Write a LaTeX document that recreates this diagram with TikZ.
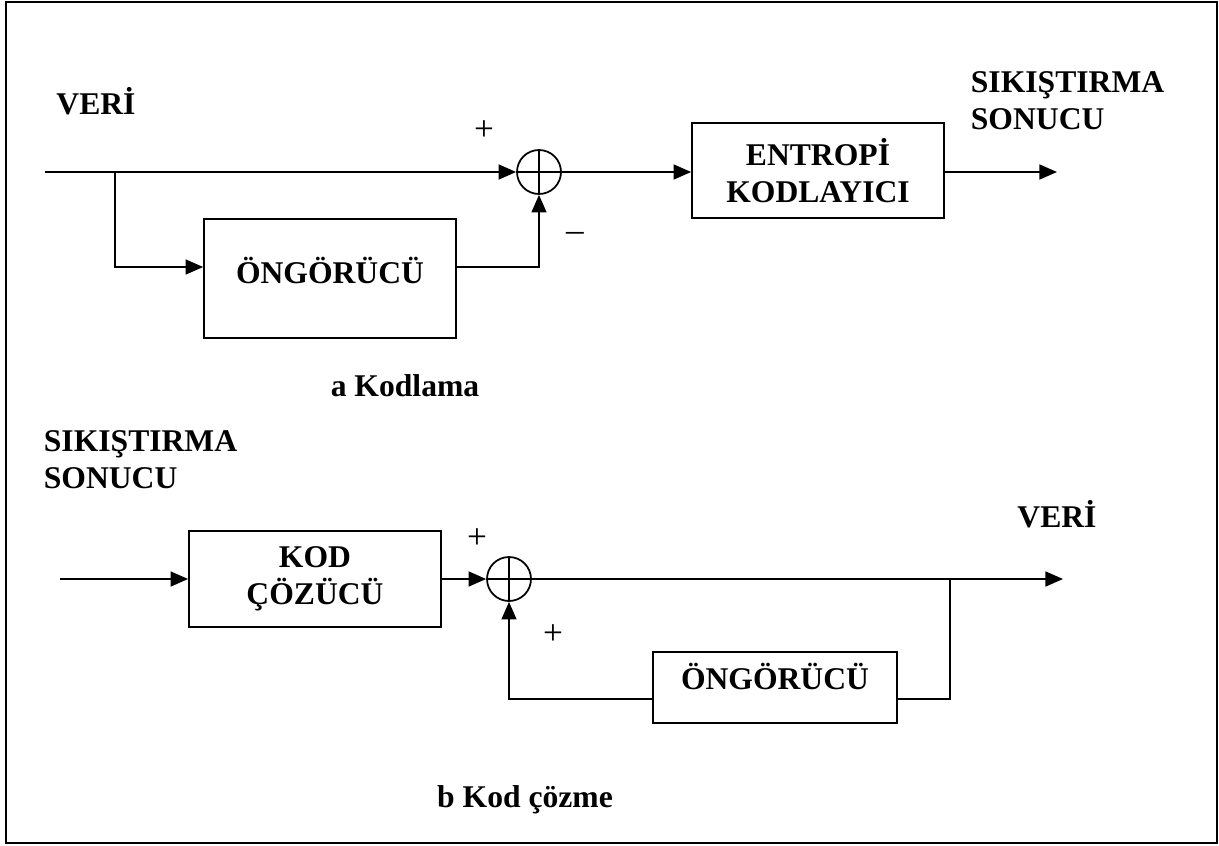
\documentclass[tikz,border=0pt]{standalone}
\usepackage{fontspec}
\setmainfont{Liberation Serif}
\usepackage{tikz}
\usetikzlibrary{arrows.meta}
\usetikzlibrary{positioning}
\usetikzlibrary{calc}
\tikzset{
    flow/.style={-{Triangle[length=10pt,width=8.5pt]}},
    blok/.style={draw,line width=1pt,inner sep=0pt,align=center,font=\bfseries\fontsize{18}{21}\selectfont},
    toplam/.style={draw,circle,line width=1pt,minimum size=0.88cm,inner sep=0pt},
    etiket/.style={inner sep=0pt,align=left,font=\bfseries\fontsize{18}{21}\selectfont},
    isaret/.style={inner sep=0pt,font=\fontsize{20}{22}\selectfont}
}

\begin{document}
\begin{tikzpicture}[x=0.02cm,y=-0.02cm,line width=1pt]
        \useasboundingbox (0,0) rectangle (1219,845);
        \draw[line width=1.4pt] (6,2) rectangle (1217,843);
        % a Kodlama
        \node[etiket] (veri1) at (96,101) {VERİ};
        \node[etiket,anchor=west] (sonuc1) at (970,101) {SIKIŞTIRMA\\SONUCU};
        \node[toplam] (sum1) at (539,172) {};
        \draw[] (sum1.north) -- (sum1.south) (sum1.west) -- (sum1.east);
        \node[blok,minimum width=5.04cm,minimum height=2.38cm,text depth=0.32cm] (ongor1) at (330,278.5) {ÖNGÖRÜCÜ};
        \node[blok,minimum width=5.04cm,minimum height=1.9cm] (entropi) at (818,170.5) {ENTROPİ\\KODLAYICI};
        \coordinate (giris1) at (45,172);
        \coordinate (ayir1) at (115,172);
        \coordinate (kol1) at (0,267);
        \coordinate (cikis1) at (1057,172);
        \draw[flow] (giris1) -- (sum1.west);
        \draw[flow] (ayir1) |- (ongor1.west |- kol1);
        \draw[flow] (ongor1.east |- kol1) -| (sum1.south);
        \draw[flow] (sum1.east) -- (entropi.west |- sum1);
        \draw[flow] (entropi.east |- sum1) -- (cikis1);
        \node[isaret] (arti1) at (484,131) {+};
        \node[isaret] (eksi1) at (575,237) {–};
        \node[etiket] (baslik1) at (405,386) {a Kodlama};
        % b Kod cozme
        \node[etiket,anchor=west] (sonuc2) at (43,460) {SIKIŞTIRMA\\SONUCU};
        \node[etiket] (veri2) at (1057,514) {VERİ};
        \node[blok,minimum width=5.04cm,minimum height=1.92cm] (cozucu) at (315,579) {KOD\\ÇÖZÜCÜ};
        \node[toplam] (sum2) at (509,579) {};
        \draw[] (sum2.north) -- (sum2.south) (sum2.west) -- (sum2.east);
        \node[blok,minimum width=4.88cm,minimum height=1.42cm,text depth=0.46cm] (ongor2) at (775,687.5) {ÖNGÖRÜCÜ};
        \coordinate (giris2) at (60,579);
        \coordinate (ayir2) at (950,579);
        \coordinate (kol2) at (0,699);
        \coordinate (cikis2) at (1063,579);
        \draw[flow] (giris2) -- (cozucu.west);
        \draw[flow] (cozucu.east) -- (sum2.west);
        \draw[flow] (sum2.east) -- (cikis2);
        \draw[] (ayir2) |- (ongor2.east |- kol2);
        \draw[flow] (ongor2.west |- kol2) -| (sum2.south);
        \node[isaret] (arti2) at (477,539) {+};
        \node[isaret] (arti3) at (553,635) {+};
        \node[etiket] (baslik2) at (525,800) {b Kod çözme};
    \end{tikzpicture}
\end{document}
